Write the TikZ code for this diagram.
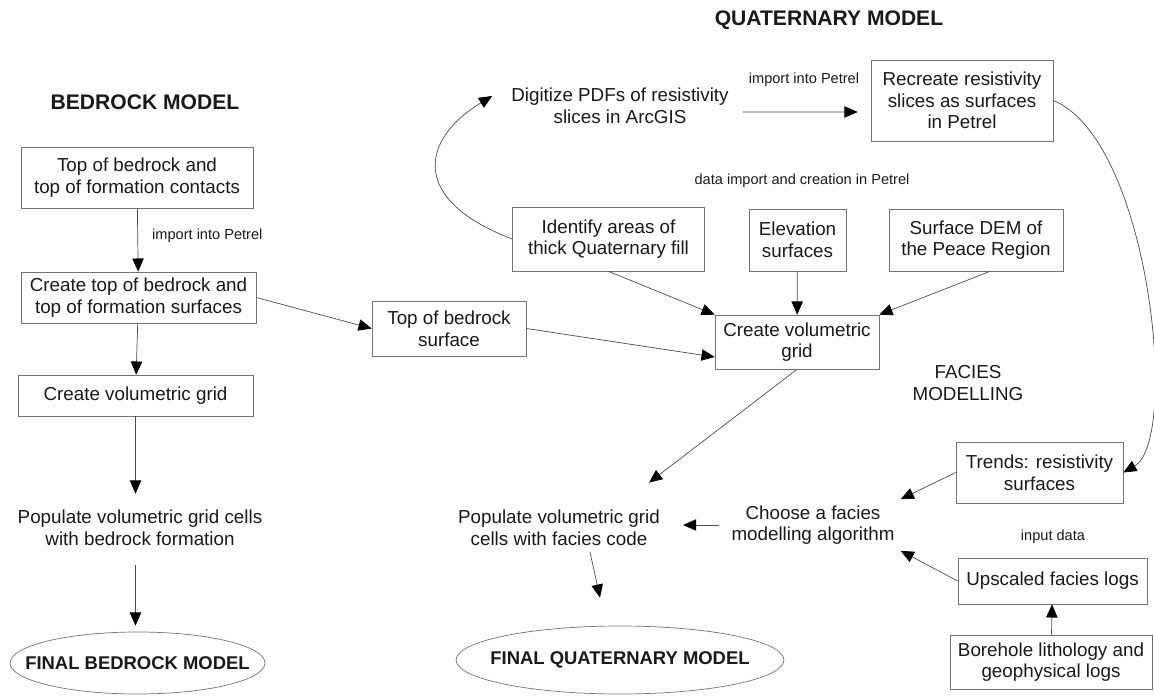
\documentclass[tikz,border=0pt]{standalone}
\usepackage{fontspec}
\setmainfont{Liberation Sans}
\usetikzlibrary{arrows.meta,shapes.geometric}

\begin{document}
\begin{tikzpicture}[->,>={Triangle[length=7.5pt,width=6.5pt,color=black]},thin,x=0.02cm,y=-0.02cm]
\tikzstyle{box}=[shape=rectangle,draw=black!55,text=black!90,align=center,inner sep=0pt,font=\fontsize{10.7}{12.3}\selectfont]
\tikzstyle{plain}=[text=black!90,align=center,font=\fontsize{10.7}{12.3}\selectfont]
\tikzstyle{small}=[text=black!90,font=\fontsize{8.3}{10}\selectfont]
\tikzstyle{title}=[text=black!90,font=\fontsize{12}{14}\selectfont\bfseries]
\tikzstyle{final}=[shape=ellipse,draw=black!55,inner ysep=0pt,text=black!90,font=\fontsize{10.5}{12}\selectfont\bfseries]
\tikzset{every edge/.append style={draw=black!70}}
\useasboundingbox (0,0) rectangle (1154,696);

% bedrock side
\node[title]		(TB) at (145,102) {BEDROCK MODEL};
\node[box,minimum width=4.64cm,minimum height=1.22cm] (B1) at (137,177.5) {Top of bedrock and\\top of formation contacts};
\node[box,minimum width=4.7cm,minimum height=1.02cm]  (B2) at (138.5,297.5) {Create top of bedrock and\\top of formation surfaces};
\node[box,minimum width=4.7cm,minimum height=0.82cm]  (B3) at (135.5,395.5) {Create volumetric grid};
\node[plain]		(B4) at (140,528) {Populate volumetric grid cells\\with bedrock formation};
\node[final,inner xsep=-0.46cm,minimum width=5.1cm,minimum height=1.24cm] (B5) at (137.5,663) {FINAL BEDROCK MODEL};
\node[small,anchor=west] (LB) at (146,236) {import into Petrel};
\node[box,minimum width=3.08cm,minimum height=1.1cm]  (T) at (449,328.5) {Top of bedrock\\surface};

% quaternary side
\node[title]		(TQ) at (829,20) {QUATERNARY MODEL};
\node[plain]		(Q1) at (620,106) {Digitize PDFs of resistivity\\slices in ArcGIS};
\node[box,minimum width=3.64cm,minimum height=1.62cm] (Q2) at (962,100.5) {Recreate resistivity\\slices as surfaces\\in Petrel};
\node[small]		(LQ1) at (804,80) {import into Petrel};
\node[small]		(LQ2) at (802,181) {data import and creation in Petrel};
\node[box,minimum width=3.84cm,minimum height=1.28cm] (Q3) at (608.5,239) {Identify areas of\\thick Quaternary fill};
\node[box,minimum width=1.94cm,minimum height=1.24cm] (Q4) at (797.5,240) {Elevation\\surfaces};
\node[box,minimum width=3.48cm,minimum height=1.24cm] (Q5) at (976,240) {Surface DEM of\\the Peace Region};
\node[box,minimum width=3.28cm,minimum height=1.08cm] (Q6) at (797,342) {Create volumetric\\grid};
\node[plain]		(LF) at (968,383) {FACIES\\MODELLING};
\node[plain]		(Q7) at (559,528) {Populate volumetric grid\\cells with facies code};
\node[plain]		(Q8) at (813,525) {Choose a facies\\modelling algorithm};
\node[box,minimum width=3.34cm,minimum height=1.22cm] (Q9) at (1039.5,472.5) {Trends: resistivity\\surfaces};
\node[small]		(LI) at (1053,537) {input data};
\node[box,minimum width=3.78cm,minimum height=0.92cm] (Q10) at (1052.5,581) {Upscaled facies logs};
\node[box,minimum width=4.04cm,minimum height=1.08cm] (Q11) at (1051,662) {Borehole lithology and\\geophysical logs};
\node[final,inner xsep=-0.32cm,minimum width=6.56cm,minimum height=1.36cm] (Q12) at (620,660) {FINAL QUATERNARY MODEL};

\path
(B1) edge (B2)
(B2) edge (B3)
(B3.south) edge[shorten >=0.21cm] (B3.south |- B4.north)
(B3.south |- B4.south) edge[shorten <=0.27cm,shorten >=0.12cm] (B3.south |- B5.north)
(B2.east) edge (T.west)
(T.east) edge ([yshift=-0.3cm]Q6.west)
([yshift=-0.12cm]Q1.east) edge[shorten <=0.16cm,shorten >=0.26cm] ([yshift=-0.23cm]Q2.west)
(Q3.south) edge (Q6.north west)
(Q4) edge (Q6)
([xshift=0.28cm]Q5.south) edge (Q6.north east)
(Q6.south) edge ([xshift=-0.34cm,yshift=0.43cm]Q7.north east)
(Q8.west) edge[shorten <=0.12cm,shorten >=0.34cm] (Q8.west -| Q7.east)
([xshift=0.62cm]Q7.south) edge ([xshift=-0.4cm,yshift=0.56cm]Q12.north)
(Q9.west) edge (Q8.north east)
(Q10.west) edge (Q8.south east)
(Q11) edge (Q10)
;
\draw[black!70] (Q3.west) .. controls (410,200) and (420,140) .. ([xshift=-0.26cm,yshift=0.2cm]Q1.west);
\draw[black!70] (Q2.east) .. controls (1150,140) and (1180,440) .. (Q9.east);
\end{tikzpicture}
\end{document}
